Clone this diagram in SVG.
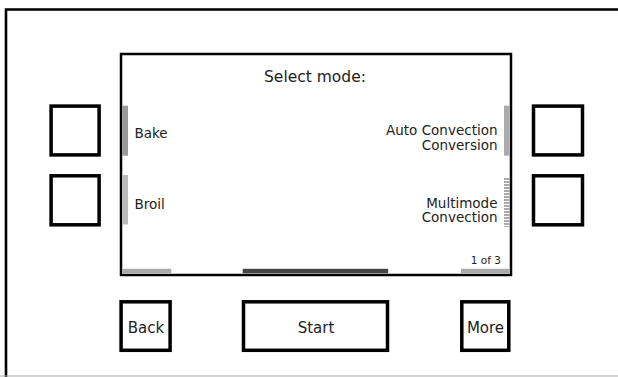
<svg xmlns="http://www.w3.org/2000/svg" width="618" height="377" viewBox="0 0 618 377">
<style>
  text { font-family: "DejaVu Sans", Verdana, sans-serif; fill: #222; }
  .lbl { font-size: 13.5px; }
  .btn { font-size: 15px; text-anchor: middle; }
  .key { fill: #fff; stroke: #000; stroke-width: 3.5; }
  .end { text-anchor: end; }
</style>
<defs>
  <pattern id="stripes" x="0" y="178" width="6" height="3" patternUnits="userSpaceOnUse">
    <rect x="0" y="0" width="6" height="2" fill="#aaa"/>
  </pattern>
</defs>
<rect width="618" height="377" fill="#fff"/>
<g id="frame">
  <path d="M6 377 V9.5 H618" fill="none" stroke="#000" stroke-width="2.6"/>
  <line x1="0" y1="376" x2="618" y2="376" stroke="#aaa" stroke-width="1"/>
</g>
<g id="screen">
  <rect x="121" y="54" width="390" height="221" fill="#fff" stroke="#000" stroke-width="2.5"/>
  <text x="315" y="81.5" class="btn" style="font-size:15.5px">Select mode:</text>
  <rect x="122.2" y="105.7" width="5.8" height="50" fill="#999"/>
  <rect x="122.2" y="175" width="5.8" height="49.5" fill="#bbb"/>
  <rect x="504" y="105.7" width="5.6" height="50" fill="#aaa"/>
  <rect x="504" y="178" width="5.6" height="49" fill="url(#stripes)"/>
  <rect x="122.2" y="268.8" width="49" height="4.5" fill="#aaa"/>
  <rect x="242.7" y="268.8" width="145.5" height="4.5" fill="#444"/>
  <rect x="461" y="268.8" width="48.6" height="4.5" fill="#aaa"/>
  <text x="134.5" y="138" class="lbl">Bake</text>
  <text x="134.5" y="209" class="lbl">Broil</text>
  <text x="497.5" y="135" class="lbl end">Auto Convection</text>
  <text x="497.5" y="150" class="lbl end">Conversion</text>
  <text x="497.5" y="207.5" class="lbl end">Multimode</text>
  <text x="497.5" y="222" class="lbl end">Convection</text>
  <text x="501" y="264.3" class="end" style="font-size:10.5px">1 of 3</text>
</g>
<g id="key-left-1"><rect x="51.1" y="106.1" width="48" height="48.8" class="key"/></g>
<g id="key-left-2"><rect x="51.1" y="175.8" width="48" height="49" class="key"/></g>
<g id="key-right-1"><rect x="533.5" y="106.1" width="49" height="48.8" class="key"/></g>
<g id="key-right-2"><rect x="533.5" y="175.8" width="49" height="49" class="key"/></g>
<g id="btn-back">
  <rect x="121.1" y="301.8" width="49" height="48.5" class="key"/>
  <text x="146" y="332.5" class="btn">Back</text>
</g>
<g id="btn-start">
  <rect x="243.5" y="301.8" width="144" height="48.5" class="key"/>
  <text x="316" y="332.5" class="btn">Start</text>
</g>
<g id="btn-more">
  <rect x="461.8" y="301.8" width="47" height="48.5" class="key"/>
  <text x="485.5" y="332.5" class="btn">More</text>
</g>
<g id="connectors"></g>
</svg>
